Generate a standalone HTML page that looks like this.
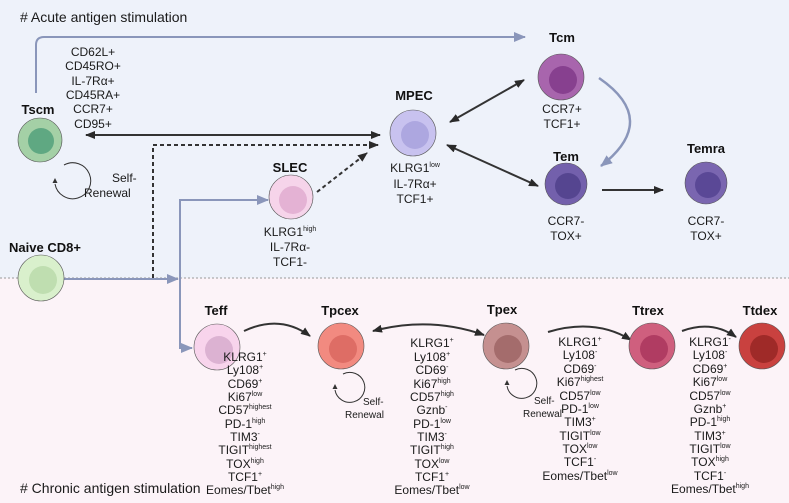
<!DOCTYPE html>
<html><head><meta charset="utf-8"><style>
html,body{margin:0;padding:0;background:#fff}
svg{display:block}
text{font-family:"Liberation Sans",Arial,sans-serif;fill:#1a1a1a}
.b{font-weight:bold;font-size:13px;text-anchor:middle;fill:#111}
.m{font-size:12px;text-anchor:middle}
.s{font-size:12px}
</style></head><body>
<svg width="789" height="503" viewBox="0 0 789 503" xmlns="http://www.w3.org/2000/svg">
<defs>
<marker id="ak" markerWidth="10" markerHeight="8" refX="9" refY="4" orient="auto-start-reverse" markerUnits="userSpaceOnUse"><path d="M0,0 L10,4 L0,8 z" fill="#2a2a2a"/></marker>
<marker id="ag" markerWidth="12" markerHeight="10" refX="11" refY="5" orient="auto-start-reverse" markerUnits="userSpaceOnUse"><path d="M0,0 L12,5 L0,10 z" fill="#8a96ba"/></marker>
</defs>
<rect x="0" y="0" width="789" height="278" fill="#eef2fa"/>
<rect x="0" y="278" width="789" height="225" fill="#fcf3f8"/>
<line x1="0" y1="278" x2="789" y2="278" stroke="#999" stroke-width="1" stroke-dasharray="2,2"/>
<text x="20" y="22" style="font-size:14px">#  Acute antigen stimulation</text>
<text x="20" y="493" style="font-size:14px"># Chronic antigen stimulation</text>

<path d="M36,93 V45 Q36,37 44,37 H525" fill="none" stroke="#8a96ba" stroke-width="2" marker-end="url(#ag)"/>
<path d="M63,279 H178" fill="none" stroke="#8a96ba" stroke-width="2" marker-end="url(#ag)"/>
<path d="M180,279 V200 H268" fill="none" stroke="#8a96ba" stroke-width="2" marker-end="url(#ag)"/>
<path d="M180,279 V348 H192" fill="none" stroke="#8a96ba" stroke-width="2" marker-end="url(#ag)"/>
<path d="M599,78 Q660,120 601,166" fill="none" stroke="#8a96ba" stroke-width="2.5" marker-end="url(#ag)"/>

<line x1="86" y1="135" x2="380" y2="135" stroke="#333" stroke-width="2" marker-start="url(#ak)" marker-end="url(#ak)"/>
<path d="M153,278 V145 H378" fill="none" stroke="#333" stroke-width="2" stroke-dasharray="4,3" marker-end="url(#ak)"/>
<line x1="317" y1="192" x2="367" y2="153" stroke="#333" stroke-width="2" stroke-dasharray="4,3" marker-end="url(#ak)"/>
<line x1="450" y1="122" x2="524" y2="80" stroke="#333" stroke-width="2" marker-start="url(#ak)" marker-end="url(#ak)"/>
<line x1="447" y1="145" x2="538" y2="186" stroke="#333" stroke-width="2" marker-start="url(#ak)" marker-end="url(#ak)"/>
<line x1="602" y1="190" x2="663" y2="190" stroke="#333" stroke-width="2" marker-end="url(#ak)"/>
<path d="M244,331 Q280,314 310,336" fill="none" stroke="#333" stroke-width="2" marker-end="url(#ak)"/>
<path d="M373,331 Q430,316 484,335" fill="none" stroke="#333" stroke-width="2" marker-start="url(#ak)" marker-end="url(#ak)"/>
<path d="M548,332 Q595,318 631,340" fill="none" stroke="#333" stroke-width="2" marker-end="url(#ak)"/>
<path d="M682,331 Q712,320 736,337" fill="none" stroke="#333" stroke-width="2" marker-end="url(#ak)"/>

<!-- self renewal -->
<path d="M64,165 A18,18 0 1 1 55,184" fill="none" stroke="#333" stroke-width="1"/>
<path d="M55,178 l-2.5,5 l5,0 z" fill="#333"/>
<text x="112" y="182" class="s">Self-</text><text x="84" y="197" class="s">Renewal</text>
<path d="M343,374 A15,15 0 1 1 335,390" fill="none" stroke="#333" stroke-width="1"/>
<path d="M335,384 l-2.5,5 l5,0 z" fill="#333"/>
<text x="363" y="405" class="s" style="font-size:10px">Self-</text><text x="345" y="418" class="s" style="font-size:10px">Renewal</text>
<path d="M515,370 A15,15 0 1 1 507,386" fill="none" stroke="#333" stroke-width="1"/>
<path d="M507,380 l-2.5,5 l5,0 z" fill="#333"/>
<text x="534" y="404" class="s" style="font-size:10px">Self-</text><text x="523" y="417" class="s" style="font-size:10px">Renewal</text>

<g stroke="#555" stroke-width="0.6">
<circle cx="40" cy="140" r="22" fill="#a4d0a6"/><circle cx="41" cy="141" r="13" fill="#5fa882" stroke="none"/>
<circle cx="41" cy="278" r="23" fill="#d9f0cc"/><circle cx="43" cy="280" r="14" fill="#bfdeb0" stroke="none"/>
<circle cx="291" cy="197" r="22" fill="#f6d4ea"/><circle cx="293" cy="200" r="14" fill="#e4b2d4" stroke="none"/>
<circle cx="413" cy="133" r="23" fill="#c8c2ef"/><circle cx="415" cy="135" r="14" fill="#ada7e0" stroke="none"/>
<circle cx="561" cy="77" r="23" fill="#a865ad"/><circle cx="563" cy="80" r="14" fill="#87408f" stroke="none"/>
<circle cx="566" cy="184" r="21" fill="#7360ac"/><circle cx="568" cy="186" r="13" fill="#554590" stroke="none"/>
<circle cx="706" cy="183" r="21" fill="#7a66b0"/><circle cx="708" cy="185" r="13" fill="#5a4896" stroke="none"/>
<circle cx="217" cy="347" r="23" fill="#f8d4ec"/><circle cx="219" cy="350" r="14" fill="#dcb2d2" stroke="none"/>
<circle cx="341" cy="346" r="23" fill="#f28a80"/><circle cx="343" cy="349" r="14" fill="#de6d65" stroke="none"/>
<circle cx="506" cy="346" r="23" fill="#c59090"/><circle cx="508" cy="349" r="14" fill="#a46c6c" stroke="none"/>
<circle cx="652" cy="346" r="23" fill="#cf5f7e"/><circle cx="654" cy="349" r="14" fill="#b03c62" stroke="none"/>
<circle cx="762" cy="346" r="23" fill="#c9413f"/><circle cx="764" cy="349" r="14" fill="#9f2a28" stroke="none"/>
</g>

<text x="38" y="114" class="b">Tscm</text>
<text x="45" y="252" class="b">Naive CD8+</text>
<text x="290" y="172" class="b">SLEC</text>
<text x="414" y="100" class="b">MPEC</text>
<text x="562" y="42" class="b">Tcm</text>
<text x="566" y="161" class="b">Tem</text>
<text x="706" y="153" class="b">Temra</text>
<text x="216" y="315" class="b">Teff</text>
<text x="340" y="315" class="b">Tpcex</text>
<text x="502" y="314" class="b">Tpex</text>
<text x="648" y="315" class="b">Ttrex</text>
<text x="760" y="315" class="b">Ttdex</text>

<text x="93" y="56" class="m">CD62L+</text><text x="93" y="70" class="m">CD45RO+</text><text x="93" y="85" class="m">IL-7Rα+</text><text x="93" y="99" class="m">CD45RA+</text><text x="93" y="113" class="m">CCR7+</text><text x="93" y="128" class="m">CD95+</text>
<text x="290" y="236" class="m">KLRG1<tspan font-size="7" dy="-5">high</tspan></text><text x="290" y="251" class="m">IL-7Rα-</text><text x="290" y="266" class="m">TCF1-</text>
<text x="415" y="172" class="m">KLRG1<tspan font-size="7" dy="-5">low</tspan></text><text x="415" y="188" class="m">IL-7Rα+</text><text x="415" y="203" class="m">TCF1+</text>
<text x="562" y="113" class="m">CCR7+</text><text x="562" y="128" class="m">TCF1+</text>
<text x="566" y="225" class="m">CCR7-</text><text x="566" y="240" class="m">TOX+</text>
<text x="706" y="225" class="m">CCR7-</text><text x="706" y="240" class="m">TOX+</text>

<g>
<text x="245" y="361" class="m">KLRG1<tspan font-size="7" dy="-5">+</tspan></text>
<text x="245" y="374" class="m">Ly108<tspan font-size="7" dy="-5">+</tspan></text>
<text x="245" y="388" class="m">CD69<tspan font-size="7" dy="-5">+</tspan></text>
<text x="245" y="401" class="m">Ki67<tspan font-size="7" dy="-5">low</tspan></text>
<text x="245" y="414" class="m">CD57<tspan font-size="7" dy="-5">highest</tspan></text>
<text x="245" y="428" class="m">PD-1<tspan font-size="7" dy="-5">high</tspan></text>
<text x="245" y="441" class="m">TIM3<tspan font-size="7" dy="-5">-</tspan></text>
<text x="245" y="454" class="m">TIGIT<tspan font-size="7" dy="-5">highest</tspan></text>
<text x="245" y="468" class="m">TOX<tspan font-size="7" dy="-5">high</tspan></text>
<text x="245" y="481" class="m">TCF1<tspan font-size="7" dy="-5">+</tspan></text>
<text x="245" y="494" class="m">Eomes/Tbet<tspan font-size="7" dy="-5">high</tspan></text>

<text x="432" y="347" class="m">KLRG1<tspan font-size="7" dy="-5">+</tspan></text>
<text x="432" y="361" class="m">Ly108<tspan font-size="7" dy="-5">+</tspan></text>
<text x="432" y="374" class="m">CD69<tspan font-size="7" dy="-5">-</tspan></text>
<text x="432" y="388" class="m">Ki67<tspan font-size="7" dy="-5">high</tspan></text>
<text x="432" y="401" class="m">CD57<tspan font-size="7" dy="-5">high</tspan></text>
<text x="432" y="414" class="m">Gznb<tspan font-size="7" dy="-5">-</tspan></text>
<text x="432" y="428" class="m">PD-1<tspan font-size="7" dy="-5">low</tspan></text>
<text x="432" y="441" class="m">TIM3<tspan font-size="7" dy="-5">-</tspan></text>
<text x="432" y="454" class="m">TIGIT<tspan font-size="7" dy="-5">high</tspan></text>
<text x="432" y="468" class="m">TOX<tspan font-size="7" dy="-5">low</tspan></text>
<text x="432" y="481" class="m">TCF1<tspan font-size="7" dy="-5">+</tspan></text>
<text x="432" y="494" class="m">Eomes/Tbet<tspan font-size="7" dy="-5">low</tspan></text>

<text x="580" y="346" class="m">KLRG1<tspan font-size="7" dy="-5">+</tspan></text>
<text x="580" y="359" class="m">Ly108<tspan font-size="7" dy="-5">-</tspan></text>
<text x="580" y="373" class="m">CD69<tspan font-size="7" dy="-5">-</tspan></text>
<text x="580" y="386" class="m">Ki67<tspan font-size="7" dy="-5">highest</tspan></text>
<text x="580" y="400" class="m">CD57<tspan font-size="7" dy="-5">low</tspan></text>
<text x="580" y="413" class="m">PD-1<tspan font-size="7" dy="-5">low</tspan></text>
<text x="580" y="426" class="m">TIM3<tspan font-size="7" dy="-5">+</tspan></text>
<text x="580" y="440" class="m">TIGIT<tspan font-size="7" dy="-5">low</tspan></text>
<text x="580" y="453" class="m">TOX<tspan font-size="7" dy="-5">low</tspan></text>
<text x="580" y="466" class="m">TCF1<tspan font-size="7" dy="-5">-</tspan></text>
<text x="580" y="480" class="m">Eomes/Tbet<tspan font-size="7" dy="-5">low</tspan></text>

<text x="710" y="346" class="m">KLRG1<tspan font-size="7" dy="-5">-</tspan></text>
<text x="710" y="359" class="m">Ly108<tspan font-size="7" dy="-5">-</tspan></text>
<text x="710" y="373" class="m">CD69<tspan font-size="7" dy="-5">+</tspan></text>
<text x="710" y="386" class="m">Ki67<tspan font-size="7" dy="-5">low</tspan></text>
<text x="710" y="400" class="m">CD57<tspan font-size="7" dy="-5">low</tspan></text>
<text x="710" y="413" class="m">Gznb<tspan font-size="7" dy="-5">+</tspan></text>
<text x="710" y="426" class="m">PD-1<tspan font-size="7" dy="-5">high</tspan></text>
<text x="710" y="440" class="m">TIM3<tspan font-size="7" dy="-5">+</tspan></text>
<text x="710" y="453" class="m">TIGIT<tspan font-size="7" dy="-5">low</tspan></text>
<text x="710" y="466" class="m">TOX<tspan font-size="7" dy="-5">high</tspan></text>
<text x="710" y="480" class="m">TCF1<tspan font-size="7" dy="-5">-</tspan></text>
<text x="710" y="493" class="m">Eomes/Tbet<tspan font-size="7" dy="-5">high</tspan></text>
</g>
</svg>
</body></html>
